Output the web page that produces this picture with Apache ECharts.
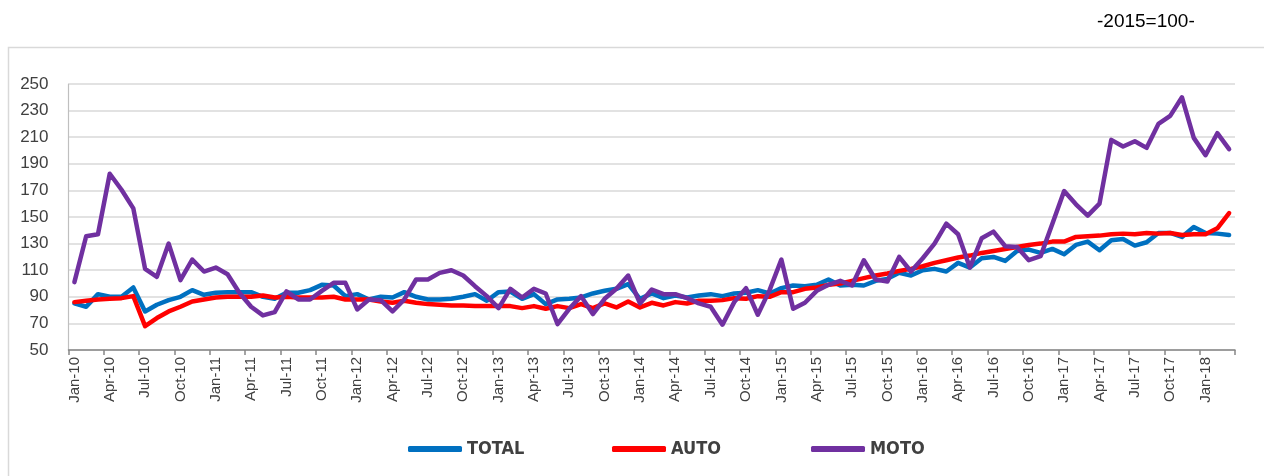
<!DOCTYPE html>
<html>
<head>
<meta charset="utf-8">
<script src="https://cdn.jsdelivr.net/npm/echarts@6/dist/echarts.min.js"></script>
<style>
html,body{margin:0;padding:0;background:#fff;}
#chart{width:1264px;height:476px;}
</style>
</head>
<body>
<div id="chart"></div>
<script>
const MONTHS = ['Jan','Feb','Mar','Apr','May','Jun','Jul','Aug','Sep','Oct','Nov','Dec'];
const YEARS = ['10','11','12','13','14','15','16','17','18'];
const N_MONTHS = 99; // Jan-10 .. Mar-18

const categories = [];
for (let i = 0; i < N_MONTHS; i++) {
  categories.push(MONTHS[i % 12] + '-' + YEARS[Math.floor(i / 12)]);
}

const totalValues = [85,82.5,92,90,90,97,79,84,87.5,90,95,91.5,93,93.5,93.5,93.5,90,88.5,93,93,95,99,98.5,90.5,92,88,90,89.5,93.5,90,88,88,88.5,90,92,87,93.5,94,88.5,92,84.5,88,88.5,89.5,92.5,94.5,96,99.5,88.5,92.5,89,91,89.5,91,92,90.5,92.5,93,95,92.5,96.5,98.5,98,99,103,98.5,99,98.5,102,103.5,108,106,110,111,109,115.5,112,119,120,117,124.5,125.5,123,126,122,129,131.5,125,132.5,133.5,128.5,131,138,138,135,142.5,138,137.5,136.5];

const autoValues = [86,87,88,88.5,89,90.5,68,74,79,82.5,86.5,88,89.5,90,90,90,91,89.5,90,89.5,89.5,89.5,90,88,88,88,86.5,85.5,87,85.5,84.5,84,83.5,83.5,83,83,83,83,81.5,83,81,83,81.5,84.5,81.5,85,82,86.5,82,85.5,83.5,86,85,87,87,87.5,89,88.5,90.5,90,93.5,93.5,96,97,99,100,102,104,106,107.5,109.5,111,113,115.5,117.5,119.5,121,123,124.5,126,127.5,129,130,131.5,131.5,135,135.5,136,137,137.5,137,138,137.5,138,136.5,137,137,141.5,153];

const motoValues = [101,135.5,137,182.5,170.5,156.5,111,105,130,102.5,118,109,112,107,93,82.5,76,78.5,94,88,88,94.5,100.5,100.5,80.5,88,87.5,79,88,103,103,108,110,106,98,90.5,81.5,96,89.5,96,92.5,69.5,81,90.5,77,88.5,96,106,85,95.5,92,92,89,85,82.5,69,86,96.5,76.5,95,118,81,85.5,94.5,99,102,98.5,117.5,103,101.5,120,109,119,130,145,137,112,134,139,128,127.5,117.5,120.5,145,169.5,159.5,151,160,208,203,207,202,220,226,240,209.5,196.5,213,201];

const seriesNames = ['TOTAL','AUTO','MOTO'];
const seriesColors = ['#0070C0','#FF0000','#7030A0'];
const seriesData = [totalValues, autoValues, motoValues];
const yTicks = {min: 50, max: 250, interval: 20};
const subtitle = '-2015=100-';

const chart = echarts.init(document.getElementById('chart'), null, {renderer: 'canvas'});

const legendFont = {fontFamily: '"DejaVu Sans Condensed","Liberation Sans",sans-serif', fontWeight: 'bold', fontSize: 18, color: '#404040'};
const legendLefts = [403, 607, 806];

chart.setOption({
  animation: false,
  backgroundColor: '#ffffff',
  grid: {left: 68.5, right: 29, top: 84, bottom: 126, containLabel: false},
  graphic: [
    {type: 'rect', shape: {x: 8.5, y: 47.5, width: 1400, height: 600}, style: {fill: 'none', stroke: '#D9D9D9', lineWidth: 1.5}, silent: true},
    {type: 'text', left: 1097, top: 12, style: {text: subtitle, fill: '#000', font: '19px "Liberation Sans", sans-serif'}}
  ],
  legend: seriesNames.map((n, k) => ({
    data: [n],
    left: legendLefts[k],
    top: 435,
    icon: 'roundRect',
    itemWidth: 54,
    itemHeight: 6,
    itemGap: 0,
    textStyle: legendFont,
    selectedMode: false
  })),
  xAxis: {
    type: 'category',
    data: categories,
    boundaryGap: true,
    axisLine: {lineStyle: {color: '#868686', width: 1.5}},
    axisTick: {show: true, interval: 2, length: 5, lineStyle: {color: '#868686', width: 1.5}},
    axisLabel: {interval: 2, rotate: 90, margin: 7, color: '#404040', fontSize: 15, fontFamily: '"Liberation Sans", Arial, sans-serif'},
    splitLine: {show: false}
  },
  yAxis: {
    type: 'value',
    min: yTicks.min, max: yTicks.max, interval: yTicks.interval,
    axisLine: {show: true, lineStyle: {color: '#BFBFBF', width: 1.2}},
    axisTick: {show: false},
    axisLabel: {margin: 20, color: '#404040', fontSize: 17, fontFamily: '"Liberation Sans", Arial, sans-serif'},
    splitLine: {show: true, lineStyle: {color: '#D9D9D9', width: 1.5}}
  },
  series: seriesNames.map((n, k) => ({
    name: n,
    type: 'line',
    data: seriesData[k],
    symbol: 'none',
    smooth: false,
    color: seriesColors[k],
    lineStyle: {color: seriesColors[k], width: 4.5, cap: 'round', join: 'round'},
    emphasis: {disabled: true},
    z: 2 + k
  }))
});
</script>
</body>
</html>
